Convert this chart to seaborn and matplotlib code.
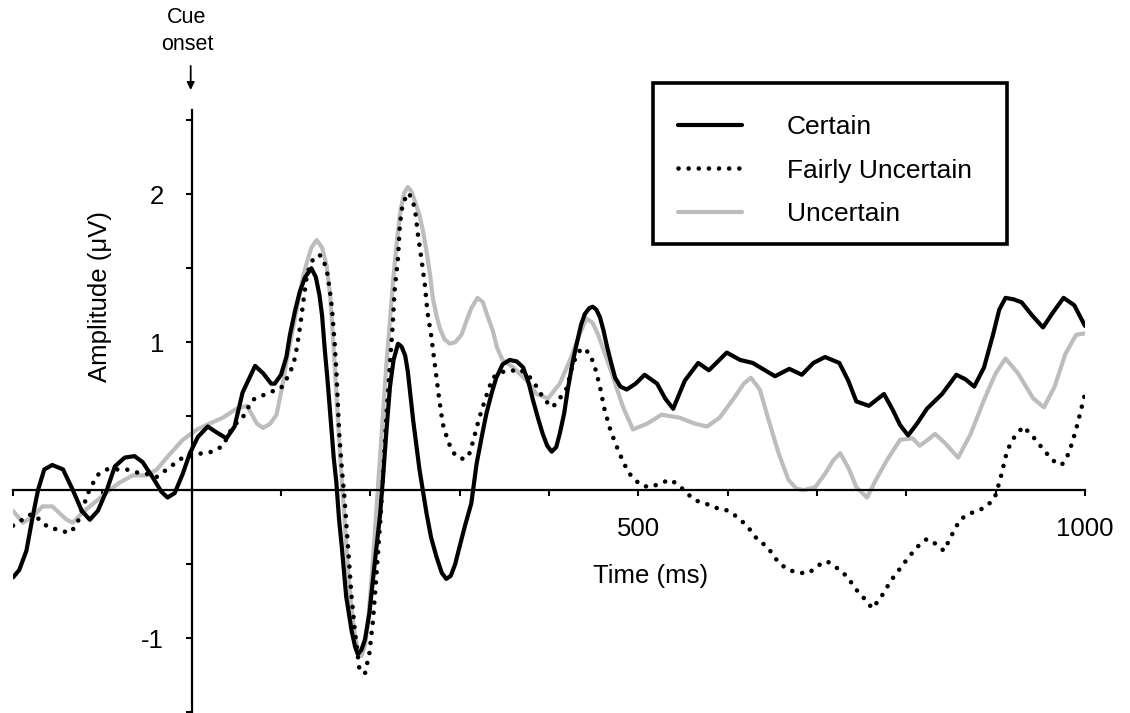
import numpy as np
import pandas as pd
import matplotlib
matplotlib.use("Agg")
import matplotlib.pyplot as plt
from matplotlib.patches import Rectangle
import seaborn as sns

# ---------------- data ----------------
certain_t = [-200, -193, -185, -178, -172, -165, -156, -144, -133, -123, -114, -105, -95, -86,
             -75, -64, -55, -44, -34, -27, -19, -10, -2, 7, 18, 28, 39, 48, 57, 71, 80, 89, 93,
             100, 106, 110, 116, 121, 127, 134, 139, 143, 146, 149, 152, 156, 159, 162, 165, 168,
             173, 179, 183, 186, 190, 194, 199, 205, 211, 214, 218, 222, 226, 231, 235, 239, 242,
             248, 255, 263, 268, 274, 280, 285, 290, 295, 300, 306, 313, 319, 325, 330, 336, 341,
             348, 356, 364, 371, 377, 382, 388, 393, 398, 403, 408, 412, 417, 421, 426, 431, 436,
             440, 445, 449, 453, 457, 461, 465, 470, 474, 480, 487, 497, 507, 521, 530, 539, 552,
             567, 579, 599, 614, 628, 653, 669, 683, 696, 709, 725, 735, 744, 758, 775, 785, 793,
             802, 812, 823, 840, 856, 866, 876, 887, 897, 904, 911, 920, 929, 941, 953, 964, 976,
             988, 1000]
certain_v = [-0.59, -0.54, -0.41, -0.18, 0.00, 0.14, 0.17, 0.14, 0.00, -0.14, -0.20, -0.14, 0.00, 0.16,
             0.22, 0.23, 0.19, 0.09, -0.01, -0.05, -0.02, 0.11, 0.25, 0.36, 0.43, 0.39, 0.35, 0.43, 0.66,
             0.84, 0.79, 0.72, 0.72, 0.78, 0.90, 1.05, 1.22, 1.34, 1.44, 1.50, 1.44, 1.32, 1.18, 0.95,
             0.75, 0.45, 0.22, 0.05, -0.20, -0.38, -0.72, -0.95, -1.06, -1.11, -1.08, -1.01, -0.83,
             -0.49, -0.16, 0.07, 0.40, 0.70, 0.88, 0.99, 0.97, 0.91, 0.80, 0.47, 0.14, -0.16, -0.32,
             -0.45, -0.56, -0.60, -0.58, -0.50, -0.38, -0.24, -0.09, 0.18, 0.37, 0.52, 0.66, 0.76,
             0.85, 0.88, 0.87, 0.83, 0.73, 0.61, 0.48, 0.38, 0.30, 0.26, 0.29, 0.38, 0.52, 0.68, 0.85,
             0.99, 1.12, 1.19, 1.23, 1.24, 1.22, 1.17, 1.08, 0.97, 0.85, 0.76, 0.70, 0.68, 0.72, 0.78,
             0.72, 0.62, 0.55, 0.74, 0.86, 0.81, 0.93, 0.88, 0.86, 0.77, 0.82, 0.78, 0.86, 0.90, 0.86,
             0.74, 0.60, 0.57, 0.65, 0.54, 0.44, 0.37, 0.45, 0.55, 0.65, 0.78, 0.75, 0.70, 0.83, 1.05,
             1.22, 1.30, 1.29, 1.27, 1.18, 1.10, 1.20, 1.30, 1.25, 1.11]

fairly_t = [-200, -179, -170, -161, -148, -137, -129, -120, -116, -106, -95, -73, -62, -50, -39, -28,
            -19, -10, 12, 24, 35, 46, 57, 68, 87, 100, 110, 116, 120, 123, 126, 129, 133, 138, 143,
            147, 152, 155, 157, 160, 162, 165, 168, 171, 175, 179, 183, 188, 194, 199, 203, 207, 211,
            214, 218, 222, 225, 227, 231, 233, 236, 242, 246, 250, 253, 257, 261, 264, 268, 272, 277,
            281, 287, 292, 298, 305, 310, 315, 322, 330, 337, 348, 356, 365, 375, 384, 395, 404, 412,
            420, 427, 436, 445, 451, 457, 462, 468, 474, 481, 488, 494, 504, 514, 526, 536, 546, 554,
            564, 575, 587, 597, 608, 616, 624, 634, 644, 657, 668, 681, 691, 701, 711, 721, 733, 745,
            754, 762, 772, 783, 793, 803, 813, 823, 832, 842, 852, 860, 870, 880, 890, 899, 905, 913,
            921, 931, 942, 954, 964, 974, 982, 990, 1000]
fairly_v = [-0.24, -0.16, -0.20, -0.25, -0.27, -0.29, -0.24, -0.09, -0.02, 0.10, 0.14, 0.14, 0.12, 0.11,
            0.09, 0.14, 0.18, 0.22, 0.25, 0.26, 0.30, 0.43, 0.49, 0.61, 0.66, 0.69, 0.79, 0.90, 1.05,
            1.18, 1.32, 1.45, 1.53, 1.58, 1.59, 1.57, 1.46, 1.33, 1.23, 1.00, 0.80, 0.40, 0.15, -0.05,
            -0.38, -0.72, -0.97, -1.22, -1.24, -1.10, -0.88, -0.56, -0.22, 0.07, 0.50, 0.86, 1.11,
            1.34, 1.57, 1.79, 1.93, 2.01, 1.98, 1.90, 1.74, 1.57, 1.39, 1.20, 1.05, 0.86, 0.62, 0.45,
            0.33, 0.26, 0.22, 0.21, 0.23, 0.33, 0.49, 0.64, 0.76, 0.80, 0.80, 0.82, 0.79, 0.72, 0.61,
            0.56, 0.62, 0.69, 0.86, 0.96, 0.93, 0.84, 0.70, 0.55, 0.42, 0.32, 0.22, 0.13, 0.08, 0.03,
            0.02, 0.05, 0.07, 0.03, -0.02, -0.07, -0.09, -0.12, -0.13, -0.17, -0.21, -0.26, -0.34,
            -0.38, -0.49, -0.54, -0.56, -0.56, -0.51, -0.48, -0.52, -0.58, -0.68, -0.74, -0.80, -0.72,
            -0.61, -0.53, -0.45, -0.38, -0.33, -0.36, -0.41, -0.29, -0.20, -0.16, -0.14, -0.11, -0.05,
            0.07, 0.27, 0.36, 0.43, 0.36, 0.27, 0.20, 0.17, 0.25, 0.41, 0.65]

uncertain_t = [-200, -189, -178, -167, -156, -140, -133, -122, -106, -92, -81, -66, -50, -39, -25,
               -10, 6, 20, 35, 50, 62, 73, 80, 88, 95, 102, 107, 113, 120, 125, 129, 134, 140, 146,
               151, 155, 158, 161, 164, 167, 170, 174, 178, 182, 186, 190, 194, 198, 202, 206, 210,
               214, 218, 222, 226, 230, 234, 238, 242, 246, 250, 255, 259, 263, 267, 270, 274, 278,
               283, 289, 295, 302, 308, 313, 320, 326, 331, 337, 342, 348, 360, 375, 386, 399, 412,
               425, 434, 442, 449, 455, 468, 483, 494, 510, 526, 546, 563, 577, 591, 608, 618, 626,
               636, 646, 657, 668, 677, 685, 698, 709, 718, 726, 736, 744, 756, 766, 778, 793, 807,
               815, 824, 832, 843, 858, 872, 887, 900, 911, 925, 942, 954, 966, 978, 990, 1000]
uncertain_v = [-0.14, -0.22, -0.18, -0.11, -0.11, -0.20, -0.22, -0.15, -0.07, 0.00, 0.05, 0.10, 0.10,
               0.14, 0.24, 0.34, 0.41, 0.45, 0.49, 0.55, 0.57, 0.45, 0.42, 0.45, 0.51, 0.72, 0.90,
               1.08, 1.30, 1.45, 1.54, 1.64, 1.69, 1.64, 1.52, 1.32, 1.05, 0.75, 0.45, 0.15, -0.10,
               -0.45, -0.75, -0.95, -1.08, -1.12, -1.05, -0.85, -0.55, -0.20, 0.15, 0.50, 0.85, 1.15,
               1.45, 1.70, 1.90, 2.01, 2.05, 2.02, 1.95, 1.86, 1.75, 1.61, 1.45, 1.30, 1.18, 1.09,
               1.02, 0.99, 1.00, 1.05, 1.15, 1.23, 1.30, 1.27, 1.18, 1.08, 0.96, 0.88, 0.83, 0.74,
               0.65, 0.62, 0.72, 0.90, 1.05, 1.16, 1.13, 1.05, 0.83, 0.56, 0.41, 0.45, 0.51, 0.49,
               0.45, 0.43, 0.49, 0.63, 0.72, 0.76, 0.68, 0.47, 0.25, 0.07, 0.01, 0.00, 0.02, 0.11,
               0.20, 0.25, 0.14, 0.02, -0.05, 0.07, 0.20, 0.34, 0.35, 0.30, 0.34, 0.38, 0.32, 0.22,
               0.38, 0.61, 0.79, 0.89, 0.79, 0.62, 0.56, 0.70, 0.92, 1.05, 1.06]

series_labels = ["Certain", "Fairly Uncertain", "Uncertain"]
x_ticks = list(range(-200, 1001, 100))
x_ticklabels = ["" if t not in (500, 1000) else str(t) for t in x_ticks]
y_ticks = [-1.5, -1.0, -0.5, 0.0, 0.5, 1.0, 1.5, 2.0, 2.5]
y_ticklabels = ["", "-1", "", "", "", "1", "", "2", ""]

# ---------------- style ----------------
sns.set_style("ticks")
plt.rcParams["font.family"] = ["Liberation Sans", "DejaVu Sans"]
plt.rcParams["text.color"] = "black"

W, H = 1130, 713
fig = plt.figure(figsize=(W / 100, H / 100), dpi=100)
fig.patch.set_facecolor("white")
ax = fig.add_axes([13 / W, 1 - 712 / H, (1085 - 13) / W, (712 - 110) / H])
ax.set_facecolor("white")

df_c = pd.DataFrame({"t": certain_t, "v": certain_v})
df_f = pd.DataFrame({"t": fairly_t, "v": fairly_v})
df_u = pd.DataFrame({"t": uncertain_t, "v": uncertain_v})

sns.lineplot(data=df_u, x="t", y="v", ax=ax, color="#bdbdbd", lw=3.0,
             estimator=None, label=series_labels[2], zorder=2,
             solid_joinstyle="round", solid_capstyle="round")
sns.lineplot(data=df_c, x="t", y="v", ax=ax, color="black", lw=3.0,
             estimator=None, label=series_labels[0], zorder=3,
             solid_joinstyle="round", solid_capstyle="round")
sns.lineplot(data=df_f, x="t", y="v", ax=ax, color="black", lw=3.3,
             estimator=None, label=series_labels[1], zorder=4,
             linestyle=(0, (0.01, 2.2)), dash_capstyle="round")

ax.set_xlim(-200, 1000)
ax.set_ylim(-1.5, 2.57)

# axes through the origin
for side in ("top", "right"):
    ax.spines[side].set_visible(False)
ax.spines["left"].set_position(("data", 0))
ax.spines["bottom"].set_position(("data", 0))
for side in ("left", "bottom"):
    ax.spines[side].set_linewidth(1.6)
    ax.spines[side].set_color("black")

ax.set_xticks(x_ticks)
ax.set_xticklabels(x_ticklabels)
ax.set_yticks(y_ticks)
ax.set_yticklabels(y_ticklabels)
ax.tick_params(axis="x", bottom=True, top=False, direction="out", length=4.5, width=1.5,
               pad=15, labelsize=18.5, colors="black")
ax.tick_params(axis="y", left=True, right=False, direction="out", length=4.5, width=1.5,
               pad=15.5, labelsize=18.5, colors="black")
ax.set_xlabel("")
ax.set_ylabel("")

# labels
fig.text(651 / W, 1 - 576 / H, "Time (ms)", ha="center", va="center", fontsize=18.5)
fig.text(100 / W, 1 - 297 / H, "Amplitude (\u03bcV)", ha="center", va="center",
         rotation=90, fontsize=18.5)
fig.text(187 / W, 1 - 31 / H, "Cue\nonset", ha="center", va="center",
         multialignment="center", fontsize=15.5, linespacing=1.38)
ax.annotate("", xy=(190.7 / W, 1 - 90 / H), xycoords="figure fraction",
            xytext=(190.7 / W, 1 - 66 / H), textcoords="figure fraction",
            arrowprops=dict(arrowstyle="-|>", color="black", lw=1.3,
                            mutation_scale=11, shrinkA=0, shrinkB=0),
            annotation_clip=False)

# legend in the order Certain, Fairly Uncertain, Uncertain
handles, labels = ax.get_legend_handles_labels()
order = [labels.index(l) for l in series_labels]
leg = ax.legend([handles[i] for i in order], [labels[i] for i in order],
                loc="upper left", bbox_to_anchor=(678 / W, 1 - 115 / H),
                bbox_transform=fig.transFigure, borderaxespad=0, borderpad=0,
                frameon=False, fontsize=19, handlelength=2.42, handletextpad=1.70,
                labelspacing=0.74)
fig.add_artist(Rectangle((653 / W, 1 - 244 / H), (1007 - 653) / W, (244 - 83) / H,
                         transform=fig.transFigure, fill=False, lw=2.6,
                         edgecolor="black", joinstyle="miter"))

fig.savefig("out.png", dpi=100, facecolor="white")
